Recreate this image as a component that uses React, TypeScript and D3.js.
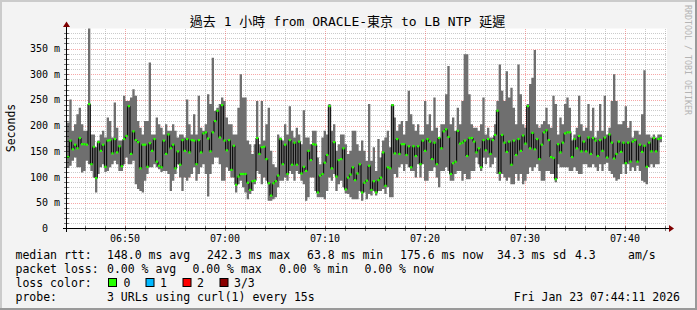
import React from "react";
import * as d3 from "d3";

// ---- data (milliseconds) ----
const smokeMax: number[] = [
  206,251,190,203,222,235,203,190,190,389,183,183,158,171,183,190,177,216,209,177,245,196,171,171,258,248,248,255,271,258,209,196,183,209,209,323,183,183,216,203,196,183,
  203,190,190,203,190,177,183,183,177,251,203,183,222,183,258,196,190,203,261,242,332,229,235,242,255,248,216,203,203,183,183,235,300,255,255,171,164,145,164,248,164,248,171,203,
  235,151,125,119,183,177,171,203,183,238,190,177,196,183,164,230,177,177,164,190,190,138,125,177,190,183,242,190,203,151,164,183,183,164,145,151,190,190,164,151,171,151,
  132,242,132,158,112,174,138,171,177,190,158,242,216,190,203,209,183,209,268,222,203,190,203,183,183,248,203,222,190,255,196,177,203,203,261,316,203,216,190,235,203,248,339,
  339,261,203,196,196,190,203,255,183,196,177,177,203,248,319,268,248,306,255,274,235,203,319,261,203,196,242,281,293,347,203,196,203,209,235,203,196,258,242,183,216,203,242,
  255,235,171,183,196,258,203,190,196,242,190,235,177,190,242,190,258,183,196,248,300,248,203,203,209,238,196,209,177,190,190,183,222,308,183,183,177,183,177,183,183,
];
const medianRtt: number[] = [
  139,171,154,163,156,176,164,164,163,242,125,159,98,168,151,163,120,171,172,146,174,148,160,121,174,180,238,145,189,172,168,117,163,163,120,166,151,174,130,122,119,171,
  145,183,156,163,117,150,124,172,151,174,148,172,171,125,172,148,185,187,175,150,187,209,229,177,240,171,152,172,114,161,85,101,106,106,106,89,75,92,93,176,145,158,159,135,
  88,64,88,92,103,174,125,163,106,172,124,167,124,169,107,120,112,151,133,164,163,70,103,106,128,143,238,117,168,101,133,135,156,76,99,105,119,94,107,125,70,89,
  93,122,75,92,70,94,99,148,83,119,117,240,146,174,145,164,164,143,160,119,160,141,160,125,171,151,174,169,135,167,125,176,156,189,193,178,106,127,130,190,165,167,171,
  141,176,176,169,148,156,119,172,152,174,145,172,182,229,108,182,167,149,169,124,171,143,174,151,181,165,238,156,186,154,174,135,163,187,191,172,139,137,96,164,148,167,185,
  187,187,139,174,156,180,150,169,150,177,145,176,171,141,172,151,177,138,183,167,136,145,169,149,167,127,167,130,169,172,130,163,149,161,120,167,150,176,150,174,176,
];
const smokeMin: number[] = [
  119,122,132,138,119,119,109,112,132,125,112,99,70,106,119,125,110,112,119,125,132,125,112,112,125,138,125,125,132,86,77,73,70,93,106,119,119,125,119,115,110,112,
  112,106,73,93,106,125,99,73,99,93,99,106,119,93,106,119,125,106,62,106,125,138,138,125,93,93,119,112,99,99,70,86,93,80,70,57,67,73,86,112,106,86,99,93,
  54,54,57,61,80,93,93,99,93,112,106,93,112,106,93,86,54,61,99,99,73,61,61,61,57,73,99,93,106,73,86,93,80,68,67,61,57,57,57,73,54,70,
  57,67,64,73,64,73,73,77,67,80,61,61,106,99,119,125,112,125,119,112,112,99,125,99,125,93,93,112,112,119,99,80,112,112,119,112,93,93,106,112,112,93,106,
  96,96,112,112,138,125,112,138,125,138,119,125,138,106,93,106,99,93,99,86,86,106,93,106,86,93,106,119,112,119,125,112,93,93,112,112,106,106,90,125,119,119,119,
  119,112,112,119,112,106,106,125,125,119,119,125,119,112,125,112,125,128,112,106,99,93,96,106,125,106,125,112,119,112,122,112,93,90,86,119,125,119,125,125,168,
];

const yTickValues = [0, 50, 100, 150, 200, 250, 300, 350];
const yTickLabels = ["0", "50 m", "100 m", "150 m", "200 m", "250 m", "300 m", "350 m"];
const xTickLabels = ["06:50", "07:00", "07:10", "07:20", "07:30", "07:40"];

const titleText = "過去 1 小時 from ORACLE-東京 to LB NTP 延遲";
const statLabels = ["148.0 ms avg", "242.3 ms max", "63.8 ms min", "175.6 ms now", "34.3 ms sd", "4.3", "am/s"];
const lossLabels = ["0.00 % avg", "0.00 % max", "0.00 % min", "0.00 % now"];
const lossColorNames = ["0", "1", "2", "3/3"];
const lossColors = ["#26ff00", "#00b8ff", "#ff0000", "#8a0000"];

const FONT = "'DejaVu Sans Mono', 'Noto Sans CJK TC', monospace";

export default function App() {
  const W = 697, H = 310;
  const L = 67, R = 667, T = 28.5, B = 228.5;
  const t0 = Date.UTC(2026, 0, 23, 6, 44, 12);
  const t1 = t0 + 3600 * 1000;
  const step = 14000;
  const x = d3.scaleUtc().domain([t0, t1]).range([L, R]);
  const y = d3.scaleLinear().domain([0, 389]).range([B, T]);

  const pts = medianRtt.map((m, i) => ({ t: t0 + i * step, lo: smokeMin[i], hi: smokeMax[i], med: m }));
  const ext = [...pts, { ...pts[pts.length - 1], t: t0 + pts.length * step }];

  const area = d3.area<any>().x((d) => x(d.t)).y0((d) => y(d.lo)).y1((d) => y(d.hi)).curve(d3.curveStepAfter);
  const line = d3.line<any>().x((d) => x(d.t)).y((d) => y(d.med)).curve(d3.curveStepAfter);

  const minorY = d3.range(10, 389, 10).filter((v) => v % 50 !== 0);
  const majorY = yTickValues.filter((v) => v > 0);
  const minorX = x.ticks(d3.utcMinute.every(2) as any).filter((d) => d.getUTCMinutes() % 10 !== 0);
  const majorX = x.ticks(d3.utcMinute.every(10) as any);
  const fmt = d3.utcFormat("%H:%M");

  const px = (v: number) => Math.round(v) + 0.5;

  const statX = [107, 207, 307, 400, 497, 575, 628];
  const lossX = [107, 192.5, 279, 364.5];
  const boxX = [108, 145.5, 182.5, 219.5];
  const nameX = [123.5, 160, 197, 234];

  return (
    <svg width={W} height={H} style={{ position: "absolute", left: 0, top: 0, display: "block" }} fontFamily={FONT}>
      <rect x={0} y={0} width={W} height={H} fill="#f3f3f3" />
      <rect x={0} y={0} width={W} height={2} fill="#cbcbcb" />
      <rect x={0} y={0} width={2} height={H} fill="#cbcbcb" />
      <rect x={0} y={H - 2} width={W} height={2} fill="#999999" />
      <rect x={W - 2} y={0} width={2} height={H} fill="#999999" />

      <rect x={L} y={T} width={R - L} height={B - T} fill="#ffffff" />

      {/* grid (under the data) */}
      <g strokeWidth={1} strokeDasharray="1,1" shapeRendering="crispEdges">
        {minorY.map((v) => (
          <line key={"my" + v} x1={L} x2={R} y1={px(y(v))} y2={px(y(v))} stroke="rgba(140,140,140,0.45)" />
        ))}
        {minorX.map((d, i) => (
          <line key={"mx" + i} y1={T} y2={B} x1={px(x(d))} x2={px(x(d))} stroke="rgba(140,140,140,0.45)" />
        ))}
        {majorY.map((v) => (
          <line key={"My" + v} x1={L} x2={R} y1={px(y(v))} y2={px(y(v))} stroke="rgba(235,60,60,0.45)" />
        ))}
        {majorX.map((d, i) => (
          <line key={"Mx" + i} y1={T} y2={B} x1={px(x(d))} x2={px(x(d))} stroke="rgba(235,60,60,0.45)" />
        ))}
      </g>

      {/* smoke */}
      <path d={area(ext) as string} fill="#6f6f6f" />
      {/* median step line */}
      <path d={line(ext) as string} fill="none" stroke="#000000" strokeWidth={1} />
      {pts.map((d, i) => (
        <rect key={i} x={x(d.t)} y={y(d.med) - 1.1} width={x(d.t + step) - x(d.t)} height={2.2} fill={lossColors[0]} />
      ))}

      {/* axes */}
      <g shapeRendering="crispEdges" stroke="#000">
        <line x1={63} x2={670} y1={228.5} y2={228.5} />
        <line x1={66.5} x2={66.5} y1={232} y2={25} />
        {minorY.concat(majorY).map((v) => (
          <line key={"ty" + v} x1={64} x2={69} y1={px(y(v))} y2={px(y(v))} stroke="rgba(0,0,0,0.5)" />
        ))}
        {minorX.concat(majorX).map((d, i) => (
          <line key={"tx" + i} y1={226} y2={231} x1={px(x(d))} x2={px(x(d))} stroke="rgba(0,0,0,0.5)" />
        ))}
      </g>
      <polygon points="669,225 669,232 674,228.5" fill="#7f0000" />
      <polygon points="63,27 70,27 66.5,21.5" fill="#7f0000" />

      {/* y labels */}
      {yTickValues.map((v, i) => (
        <text key={"yl" + v} x={v === 0 ? 48 : 60} y={y(v) + 3.5} textAnchor="end" fontSize={10} fill="#000">
          {yTickLabels[i]}
        </text>
      ))}
      {/* x labels */}
      {majorX.map((d, i) => (
        <text key={"xl" + i} x={x(d)} y={241.5} textAnchor="middle" fontSize={10} fill="#000">
          {fmt(d) === xTickLabels[i] ? xTickLabels[i] : fmt(d)}
        </text>
      ))}

      <text x={347.5} y={25.5} textAnchor="middle" fontSize={13} fill="#000">{titleText}</text>
      <text transform="translate(14.5,128) rotate(-90)" textAnchor="middle" fontSize={11.5} fill="#000">Seconds</text>
      <text transform="translate(685,5) rotate(90)" fontSize={8.3} fill="#b4b4b4">RRDTOOL / TOBI OETIKER</text>

      {/* legend */}
      <g fontSize={11.5} fill="#000" style={{ whiteSpace: "pre" }}>
        <text x={15.5} y={258.5}>median rtt:</text>
        {statLabels.map((s, i) => (
          <text key={"s" + i} x={statX[i]} y={258.5}>{s}</text>
        ))}
        <text x={15.5} y={272.5}>packet loss:</text>
        {lossLabels.map((s, i) => (
          <text key={"l" + i} x={lossX[i]} y={272.5}>{s}</text>
        ))}
        <text x={15.5} y={286.5}>loss color:</text>
        {lossColorNames.map((s, i) => (
          <g key={"c" + i}>
            <rect x={boxX[i] + 0.5} y={278.5} width={8} height={8} fill={lossColors[i]} stroke="#000" strokeWidth={1} />
            <text x={nameX[i]} y={286.5}>{s}</text>
          </g>
        ))}
        <text x={15.5} y={300.5}>probe:</text>
        <text x={107} y={300.5}>3 URLs using curl(1) every 15s</text>
        <text x={680} y={300.5} textAnchor="end">Fri Jan 23 07:44:11 2026</text>
      </g>
    </svg>
  );
}
